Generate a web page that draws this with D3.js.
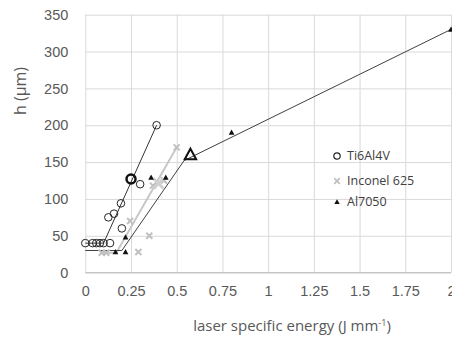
<!DOCTYPE html>
<html>
<head>
<meta charset="utf-8">
<script src="https://d3js.org/d3.v7.min.js"></script>
<style>
  body { margin: 0; background: #fff; }
  svg { display: block; font-family: "Open Sans", sans-serif; }
</style>
</head>
<body>
<svg id="chart" width="452" height="338"></svg>
<script>
// Ti6Al4V (hollow circles)
var tiE = [0, 0.04, 0.06, 0.08, 0.1, 0.135, 0.126, 0.157, 0.195, 0.2, 0.3, 0.39];
var tiH = [40, 40, 40, 40, 40, 40, 75, 80, 94, 60, 120, 200];
var tiMarkE = [0.25], tiMarkH = [127];
var tiFitE = [0, 0.1, 0.39], tiFitH = [40, 40, 200];

// Inconel 625 (grey crosses)
var incE = [0.09, 0.115, 0.29, 0.35, 0.245, 0.37, 0.4, 0.43, 0.5];
var incH = [27, 27, 28, 50, 70, 118, 121, 125, 170];
var incMarkE = [0.4], incMarkH = [121];
var incFitE = [0.08, 0.17, 0.5], incFitH = [27, 27, 170];

// Al7050 (filled triangles)
var alE = [0.165, 0.22, 0.22, 0.36, 0.44, 0.8, 2];
var alH = [28, 28, 48, 129, 129, 190, 330];
var alMarkE = [0.575], alMarkH = [160];
var alFitE = [0, 0.2, 0.54, 2], alFitH = [30, 30, 152, 330];

var xTicks = [0, 0.25, 0.5, 0.75, 1, 1.25, 1.5, 1.75, 2];
var xTickLabels = ["0", "0.25", "0.5", "0.75", "1", "1.25", "1.5", "1.75", "2"];
var yTicks = [0, 50, 100, 150, 200, 250, 300, 350];

var svg = d3.select("#chart");
var x = d3.scaleLinear().domain([0, 2]).range([85.3, 451]);
var y = d3.scaleLinear().domain([0, 350]).range([272.6, 14.7]);

// grid + axes
var gx = svg.append("g")
    .attr("transform", "translate(0," + y(0) + ")")
    .call(d3.axisBottom(x).tickValues(xTicks)
      .tickSize(-(y(0) - y(350)))
      .tickFormat(function (d, i) { return xTickLabels[i]; }));
gx.select(".domain").remove();
gx.selectAll("line").attr("stroke", "#d9d9d9");
gx.selectAll("text").attr("fill", "#595959").style("font-size", "14.5px").attr("dy", "1.4em");

var gy = svg.append("g")
    .attr("transform", "translate(" + x(0) + ",0)")
    .call(d3.axisLeft(y).tickValues(yTicks).tickSize(-(x(2) - x(0))).tickPadding(17));
gy.select(".domain").remove();
gy.selectAll("line").attr("stroke", "#d9d9d9");
gy.selectAll("text").attr("fill", "#595959").style("font-size", "14.5px");

svg.append("line")
    .attr("x1", x(0)).attr("x2", x(2)).attr("y1", y(0)).attr("y2", y(0))
    .attr("stroke", "#bfbfbf");

// axis titles
svg.append("text")
    .attr("x", 292).attr("y", 331)
    .attr("text-anchor", "middle").attr("fill", "#595959").style("font-size", "15px")
    .html('laser specific energy (J mm<tspan dy="-5" font-size="9">-1</tspan><tspan dy="5">)</tspan>');
svg.append("text")
    .attr("transform", "translate(26,91) rotate(-90)")
    .attr("text-anchor", "middle").attr("fill", "#595959").style("font-size", "16px")
    .text("h (µm)");

function pts(xs, ys) { return xs.map(function (v, i) { return [v, ys[i]]; }); }
var line = d3.line().x(function (d) { return x(d[0]); }).y(function (d) { return y(d[1]); });

// fit lines
svg.append("path").datum(pts(incFitE, incFitH)).attr("d", line)
    .attr("fill", "none").attr("stroke", "#c8c8c8").attr("stroke-width", 2);
svg.append("path").datum(pts(tiFitE, tiFitH)).attr("d", line)
    .attr("fill", "none").attr("stroke", "#333").attr("stroke-width", 1);
svg.append("path").datum(pts(alFitE, alFitH)).attr("d", line)
    .attr("fill", "none").attr("stroke", "#404040").attr("stroke-width", 1);

function cross(s) {
  return "M" + (-s) + "," + (-s) + "L" + s + "," + s + "M" + (-s) + "," + s + "L" + s + "," + (-s);
}
function tri(s) {
  return "M0," + (-s) + "L" + (s * 0.95) + "," + (s * 0.75) + "L" + (-s * 0.95) + "," + (s * 0.75) + "Z";
}

// Inconel crosses
svg.append("g").selectAll("path").data(pts(incE, incH)).enter().append("path")
    .attr("transform", function (d) { return "translate(" + x(d[0]) + "," + y(d[1]) + ")"; })
    .attr("d", cross(3)).attr("stroke", "#c0c0c0").attr("stroke-width", 2).attr("fill", "none");
svg.append("g").selectAll("path").data(pts(incMarkE, incMarkH)).enter().append("path")
    .attr("transform", function (d) { return "translate(" + x(d[0]) + "," + y(d[1]) + ")"; })
    .attr("d", cross(5)).attr("stroke", "#d0d0d0").attr("stroke-width", 3).attr("fill", "none");

// Ti circles
svg.append("g").selectAll("circle").data(pts(tiE, tiH)).enter().append("circle")
    .attr("cx", function (d) { return x(d[0]); }).attr("cy", function (d) { return y(d[1]); })
    .attr("r", 3.8).attr("fill", "none").attr("stroke", "#262626").attr("stroke-width", 1);
svg.append("g").selectAll("circle").data(pts(tiMarkE, tiMarkH)).enter().append("circle")
    .attr("cx", function (d) { return x(d[0]); }).attr("cy", function (d) { return y(d[1]); })
    .attr("r", 4.5).attr("fill", "none").attr("stroke", "#111").attr("stroke-width", 2.5);

// Al triangles
svg.append("g").selectAll("path").data(pts(alE, alH)).enter().append("path")
    .attr("transform", function (d) { return "translate(" + x(d[0]) + "," + y(d[1]) + ")"; })
    .attr("d", tri(3)).attr("fill", "#111");
svg.append("g").selectAll("path").data(pts(alMarkE, alMarkH)).enter().append("path")
    .attr("transform", function (d) { return "translate(" + x(d[0]) + "," + y(d[1]) + ")"; })
    .attr("d", tri(6)).attr("fill", "none").attr("stroke", "#111").attr("stroke-width", 2);

// legend
var legend = svg.append("g").attr("transform", "translate(337,0)");
legend.append("circle").attr("cx", 0).attr("cy", 156).attr("r", 3.2)
    .attr("fill", "none").attr("stroke", "#262626").attr("stroke-width", 1.2);
legend.append("path").attr("transform", "translate(0,181)").attr("d", cross(2.8))
    .attr("stroke", "#c0c0c0").attr("stroke-width", 1.8);
legend.append("path").attr("transform", "translate(0,202)").attr("d", tri(2.8)).attr("fill", "#111");
var names = ["Ti6Al4V", "Inconel 625", "Al7050"];
legend.selectAll("text.lg").data(names).enter().append("text")
    .attr("x", 10).attr("y", function (d, i) { return [156, 181, 202][i]; })
    .attr("dy", "0.35em").attr("fill", "#404040").style("font-size", "12.5px")
    .text(function (d) { return d; });
</script>
</body>
</html>
